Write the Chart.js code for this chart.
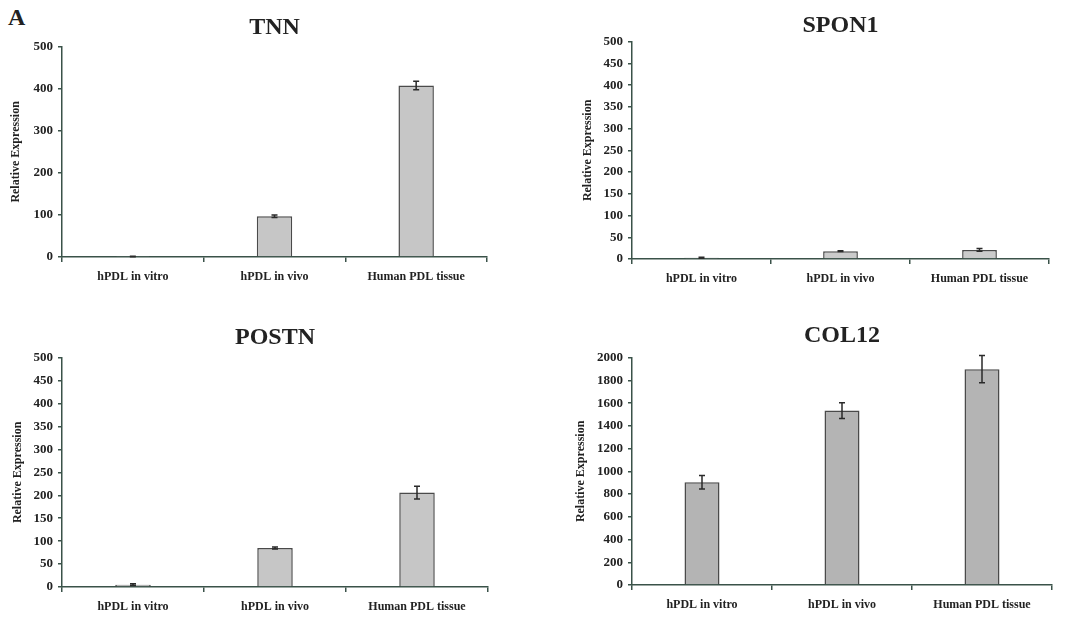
<!DOCTYPE html>
<html>
<head>
<meta charset="utf-8">
<script src="https://cdn.jsdelivr.net/npm/chart.js@4.4.1/dist/chart.umd.min.js"></script>
<style>
  body { margin: 0; background: #fff; width: 1082px; height: 619px; position: relative; overflow: hidden; }
  .panel { position: absolute; }
  #panelLetter { position: absolute; left: 8px; top: 4px; font: bold 24px "Liberation Serif", "Times New Roman", serif; color: #222; }
</style>
</head>
<body>
<div id="panelLetter">A</div>
<div class="panel" style="left:0;top:0;width:540px;height:300px"><canvas id="tnnChart"></canvas></div>
<div class="panel" style="left:540px;top:0;width:542px;height:300px"><canvas id="spon1Chart"></canvas></div>
<div class="panel" style="left:0;top:310px;width:540px;height:309px"><canvas id="postnChart"></canvas></div>
<div class="panel" style="left:540px;top:310px;width:542px;height:309px"><canvas id="col12Chart"></canvas></div>
<script>
// Sample groups (x axis)
const categories = ["hPDL in vitro", "hPDL in vivo", "Human PDL tissue"];

// Relative expression per gene, with error bars
const tnnValues = [1, 97, 408];
const tnnErrors = [0.5, 3, 10];
const spon1Values = [3, 18, 21];
const spon1Errors = [1, 1, 3];
const postnValues = [5, 85, 206];
const postnErrors = [2, 2, 14];
const col12Values = [905, 1535, 1900];
const col12Errors = [60, 70, 120];

// Y axis ranges
const tnnAxis = { max: 500, step: 100 };
const spon1Axis = { max: 500, step: 50 };
const postnAxis = { max: 500, step: 50 };
const col12Axis = { max: 2000, step: 200 };

const serif = '"Liberation Serif", "Times New Roman", serif';
const axisColor = "#3a5249";
const textColor = "#222";

// Draw error bars from the y scale
const errorBarPlugin = {
  id: "errorBars",
  afterDatasetsDraw(chart) {
    const ctx = chart.ctx;
    const yScale = chart.scales.y;
    const ds = chart.data.datasets[0];
    const meta = chart.getDatasetMeta(0);
    ctx.save();
    ctx.strokeStyle = "#2a2a2a";
    ctx.lineWidth = 1.5;
    meta.data.forEach((bar, i) => {
      const v = ds.data[i];
      const e = ds.errors[i];
      const yTop = yScale.getPixelForValue(v + e);
      const yBot = yScale.getPixelForValue(v - e);
      ctx.beginPath();
      ctx.moveTo(bar.x, yTop);
      ctx.lineTo(bar.x, yBot);
      ctx.moveTo(bar.x - 3, yTop);
      ctx.lineTo(bar.x + 3, yTop);
      ctx.moveTo(bar.x - 3, yBot);
      ctx.lineTo(bar.x + 3, yBot);
      ctx.stroke();
    });
    ctx.restore();
  }
};

function makeChart(id, title, values, errors, axis, box, fill) {
  const ctx = document.getElementById(id).getContext("2d");
  return new Chart(ctx, {
    type: "bar",
    data: {
      labels: categories,
      datasets: [{
        data: values,
        errors: errors,
        backgroundColor: fill,
        borderColor: "#4a4a4a",
        borderWidth: 1.5,
        barPercentage: 0.25,
        categoryPercentage: 1.0
      }]
    },
    options: {
      responsive: true,
      maintainAspectRatio: false,
      animation: false,
      layout: { padding: { left: box.padLeft, right: box.padRight, top: 0, bottom: 0 } },
      plugins: {
        legend: { display: false },
        tooltip: { enabled: false },
        title: {
          display: true,
          text: title,
          fullSize: false,
          color: textColor,
          font: { family: serif, size: 24, weight: "bold" },
          padding: { top: box.titleTop, bottom: box.titleBottom }
        }
      },
      scales: {
        x: {
          grid: { drawOnChartArea: false, drawTicks: true, tickLength: 5, color: axisColor, lineWidth: 1.5 },
          border: { display: true, color: axisColor, width: 1.5 },
          ticks: { color: textColor, padding: 8, maxRotation: 0, font: { family: serif, size: 12, weight: "bold" } },
          afterFit: (scale) => { scale.height = box.xHeight; }
        },
        y: {
          min: 0,
          max: axis.max,
          grid: { drawOnChartArea: false, drawTicks: true, tickLength: 4, color: axisColor, lineWidth: 1.5 },
          border: { display: true, color: axisColor, width: 1.5 },
          ticks: {
            stepSize: axis.step,
            color: textColor,
            padding: 5,
            font: { family: serif, size: 13, weight: "bold" },
            callback: (v) => String(v)
          },
          title: {
            display: true,
            text: "Relative Expression",
            color: textColor,
            padding: { top: 4, bottom: 0 },
            font: { family: serif, size: 12, weight: "bold" }
          },
          afterFit: (scale) => { scale.width = box.yWidth; }
        }
      }
    },
    plugins: [errorBarPlugin]
  });
}

makeChart("tnnChart", "TNN", tnnValues, tnnErrors, tnnAxis,
  { padLeft: 5, padRight: 53, yWidth: 57, xHeight: 43, titleTop: 13, titleBottom: 5 }, "#c6c6c6");
makeChart("spon1Chart", "SPON1", spon1Values, spon1Errors, spon1Axis,
  { padLeft: 37, padRight: 33, yWidth: 55, xHeight: 41, titleTop: 11, titleBottom: 2 }, "#cbcbcb");
makeChart("postnChart", "POSTN", postnValues, postnErrors, postnAxis,
  { padLeft: 7, padRight: 52, yWidth: 55, xHeight: 32, titleTop: 13, titleBottom: 6 }, "#c6c6c6");
makeChart("col12Chart", "COL12", col12Values, col12Errors, col12Axis,
  { padLeft: 30, padRight: 30, yWidth: 62, xHeight: 34, titleTop: 11, titleBottom: 8 }, "#b4b4b4");
</script>
</body>
</html>
